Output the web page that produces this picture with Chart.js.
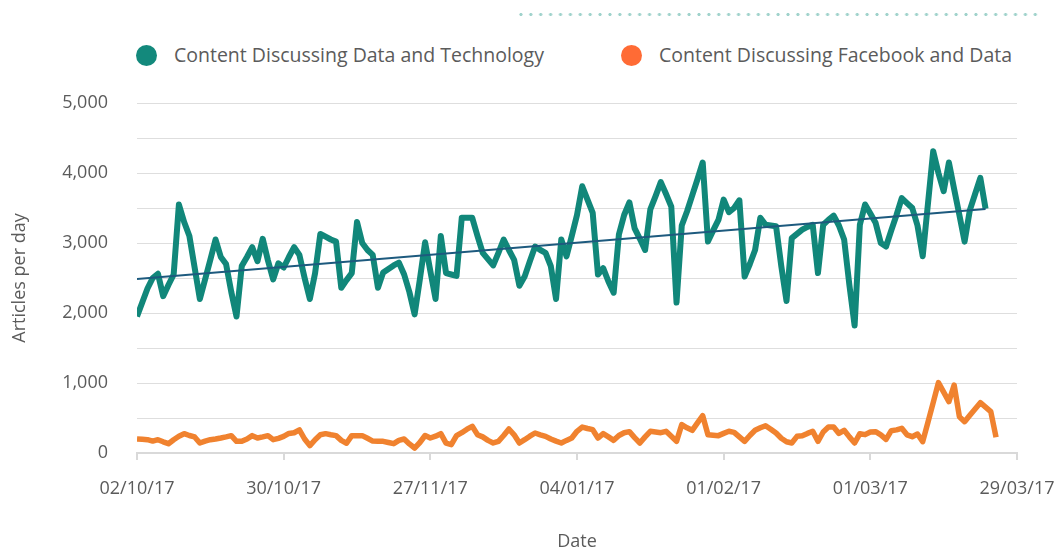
<!DOCTYPE html>
<html>
<head>
<meta charset="utf-8">
<title>Articles per day</title>
<script src="https://cdn.jsdelivr.net/npm/chart.js@4.4.1/dist/chart.umd.min.js"></script>
<style>
  body { margin: 0; background: #fff; font-family: 'Open Sans', sans-serif; }
  #wrap { position: relative; width: 1056px; height: 551px; overflow: hidden; }
  #dots {
    position: absolute; left: 516px; top: 12px; width: 526px; height: 5px;
    background-image: radial-gradient(circle, #9fd2cb 1.3px, transparent 1.9px);
    background-size: 9.9px 5px;
  }
  .legend-item {
    position: absolute; top: 43px; height: 24px; line-height: 24px;
    display: flex; align-items: center;
    font-size: 19.5px; color: #5b5b5b; white-space: nowrap;
  }
  .legend-item span { display: inline-block; width: 21px; height: 21px; border-radius: 50%; margin-right: 17px; }
  canvas { position: absolute; left: 0; top: 0; }
</style>
</head>
<body>
<div id="wrap">
  <div id="dots"></div>
  <div id="legend"></div>
  <canvas id="myChart" width="1056" height="551"></canvas>
</div>
<script>
// x axis labels, one every 28 days
const xLabels = ['02/10/17', '30/10/17', '27/11/17', '04/01/17', '01/02/17', '01/03/17', '29/03/17'];

// articles per day, one value per day from 02/10/17
const techData = [
    1950, 2150, 2350, 2500, 2560, 2240, 2400, 2550, 3550, 3300,
    3100, 2650, 2200, 2480, 2760, 3050, 2800, 2700, 2300, 1950,
    2670, 2800, 2940, 2740, 3060, 2750, 2480, 2710, 2650, 2800,
    2940, 2830, 2500, 2200, 2570, 3130, 3090, 3050, 3020, 2360,
    2470, 2570, 3300, 3000, 2900, 2830, 2360, 2580, 2630, 2680,
    2720, 2550, 2300, 1980, 2480, 3010, 2600, 2200, 3100, 2570,
    2550, 2530, 3360, 3360, 3360, 3100, 2860, 2770, 2680, 2860,
    3050, 2900, 2760, 2390, 2520, 2740, 2950, 2900, 2860, 2670,
    2200, 3050, 2810, 3100, 3400, 3810, 3620, 3430, 2550, 2640,
    2450, 2290, 3120, 3400, 3580, 3210, 3060, 2900, 3480, 3670,
    3870, 3700, 3520, 2150, 3250, 3450, 3680, 3910, 4150, 3020,
    3180, 3330, 3620, 3440, 3500, 3610, 2520, 2700, 2900, 3360,
    3260, 3250, 3240, 2670, 2170, 3070, 3130, 3190, 3230, 3260,
    2570, 3260, 3330, 3390, 3250, 3050, 2400, 1820, 3260, 3550,
    3420, 3290, 3000, 2950, 3180, 3400, 3640, 3570, 3500, 3250,
    2810, 3560, 4310, 4000, 3740, 4150, 3770, 3400, 3020, 3470,
    3700, 3930, 3490
];

const facebookData = [
    200, 195, 190, 170, 190, 160, 133, 190, 240, 276,
    250, 229, 143, 170, 190, 200, 214, 230, 248, 167,
    167, 200, 248, 214, 230, 248, 190, 210, 238, 280,
    290, 330, 200, 105, 190, 260, 276, 260, 248, 180,
    140, 248, 248, 248, 210, 170, 167, 167, 150, 133,
    180, 200, 130, 71, 150, 250, 214, 240, 276, 140,
    119, 248, 290, 340, 381, 262, 230, 180, 143, 167,
    250, 343, 260, 143, 190, 240, 286, 260, 238, 200,
    170, 143, 180, 214, 310, 371, 350, 333, 214, 276,
    230, 181, 250, 290, 305, 220, 143, 230, 310, 300,
    290, 310, 240, 167, 405, 360, 324, 430, 533, 262,
    255, 248, 280, 310, 295, 230, 167, 250, 324, 360,
    390, 340, 286, 210, 160, 143, 238, 245, 280, 310,
    167, 300, 371, 371, 280, 324, 230, 143, 276, 262,
    300, 305, 260, 195, 319, 330, 352, 260, 233, 271,
    162, 440, 720, 1005, 870, 733, 971, 519, 448, 540,
    630, 719, 655, 590, 224
];

// trend line start and end values
const trendValues = [2485, 3485];

const seriesNames = ['Content Discussing Data and Technology', 'Content Discussing Facebook and Data'];
const lineColors = ['#11877a', '#f0822f'];
const legendColors = ['#13897c', '#ff6b35'];
const legendLeft = [136, 621];

const toPoints = (arr) => arr.map((v, i) => ({ x: i, y: v }));

const fontFamily = "'Open Sans', sans-serif";
const textColor = '#5b5b5b';

// html legend
const legendEl = document.getElementById('legend');
seriesNames.forEach((name, i) => {
    const item = document.createElement('div');
    item.className = 'legend-item';
    item.style.left = legendLeft[i] + 'px';
    const dot = document.createElement('span');
    dot.style.background = legendColors[i];
    item.appendChild(dot);
    item.appendChild(document.createTextNode(name));
    legendEl.appendChild(item);
});

var ctx = document.getElementById('myChart').getContext('2d');

var myChart = new Chart(ctx, {
    type: 'line',
    data: {
        datasets: [
            {
                label: seriesNames[0],
                data: toPoints(techData),
                borderColor: lineColors[0],
                backgroundColor: legendColors[0],
                borderWidth: 6,
                pointRadius: 0,
                tension: 0,
                borderJoinStyle: 'round',
                order: 1
            },
            {
                label: seriesNames[1],
                data: toPoints(facebookData),
                borderColor: lineColors[1],
                backgroundColor: legendColors[1],
                borderWidth: 5.5,
                pointRadius: 0,
                tension: 0,
                borderJoinStyle: 'round',
                order: 2
            },
            {
                label: 'Trend',
                data: [{ x: 0, y: trendValues[0] }, { x: techData.length - 1, y: trendValues[1] }],
                borderColor: '#1d5a7e',
                borderWidth: 2,
                pointRadius: 0,
                order: 0
            }
        ]
    },
    options: {
        responsive: false,
        animation: false,
        layout: { padding: { top: 103, right: 0, bottom: 0, left: 0 } },
        plugins: {
            legend: { display: false },
            tooltip: { enabled: false }
        },
        scales: {
            x: {
                type: 'linear',
                min: 0,
                max: 168,
                grid: { drawOnChartArea: false, drawTicks: true, tickLength: 7, color: '#d9d9d9', lineWidth: 2 },
                border: { display: true, color: '#d9d9d9', width: 2 },
                ticks: {
                    stepSize: 28,
                    autoSkip: false,
                    maxRotation: 0,
                    padding: 18,
                    color: textColor,
                    font: { family: fontFamily, size: 18 },
                    callback: (v) => xLabels[Math.round(v / 28)]
                },
                title: {
                    display: true,
                    text: 'Date',
                    color: textColor,
                    font: { family: fontFamily, size: 18, lineHeight: 1 },
                    padding: { top: 0, bottom: 0 }
                },
                afterFit: (scale) => {
                    scale.height = 98;
                    scale.paddingRight = 39;
                }
            },
            y: {
                min: 0,
                max: 5000,
                grid: { color: '#dedede', lineWidth: 1, drawTicks: false },
                border: { display: false },
                ticks: {
                    stepSize: 500,
                    padding: 29,
                    color: textColor,
                    font: { family: fontFamily, size: 18 },
                    callback: (v) => (v % 1000 === 0 ? v.toLocaleString('en-US') : '')
                },
                title: {
                    display: true,
                    text: 'Articles per day',
                    color: textColor,
                    font: { family: fontFamily, size: 18 },
                    padding: { top: 9, bottom: 0 }
                },
                afterFit: (scale) => { scale.width = 137; }
            }
        }
    }
});
</script>
</body>
</html>
